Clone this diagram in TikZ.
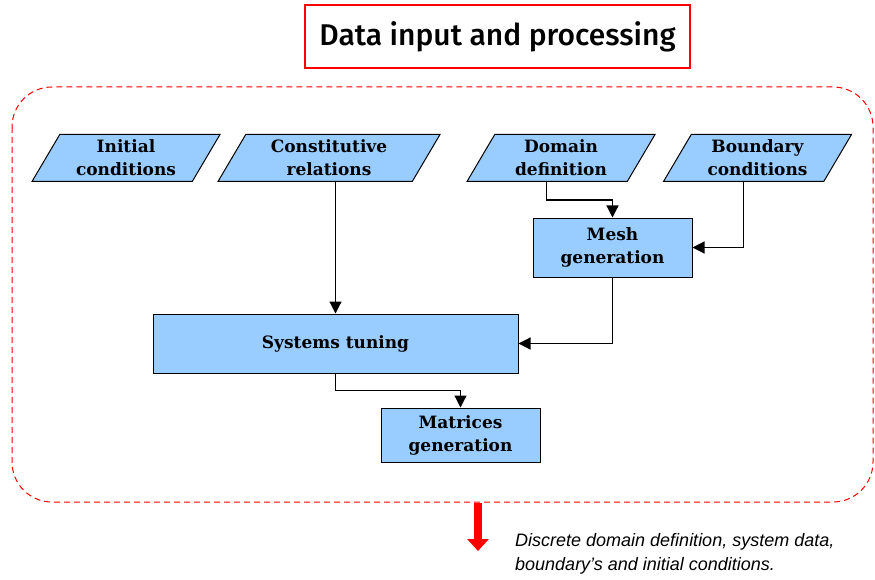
\documentclass[tikz,border=0pt]{standalone}
\usepackage{fontspec}
\setmainfont{Liberation Serif}
\newfontfamily\boxfont{DejaVu Serif}
\newfontfamily\titlefont{Fira Sans}[BoldFont={Fira Sans Medium}]
\newfontfamily\notefont{Liberation Sans}
\usetikzlibrary{arrows.meta,calc,shapes.geometric}
\definecolor{boxblue}{HTML}{99CCFF}

\begin{document}
\begin{tikzpicture}[x=1pt,y=-1pt,
	data/.style={trapezium,trapezium left angle=52.5,trapezium right angle=127.5,trapezium stretches body,draw,line width=1pt,fill=boxblue,minimum width=188pt,minimum height=47pt,inner sep=0pt,align=center,font=\boxfont\bfseries\fontsize{17}{23}\selectfont},
	proc/.style={rectangle,draw,line width=1pt,fill=boxblue,inner sep=0pt,align=center,font=\boxfont\bfseries\fontsize{17}{23}\selectfont},
	link/.style={-{Triangle[length=12pt,width=12pt]},line width=1.2pt}]
			\useasboundingbox (0,0) rectangle (875,580);
			% frame and title
			\draw[red,dash pattern=on 6pt off 4pt,rounded corners=40pt,line width=1pt] (12,87) rectangle (873,502);
			\node[draw=red,line width=1.5pt,minimum width=385pt,minimum height=63pt,font=\titlefont\bfseries\fontsize{30}{32}\selectfont] (title) at (497.5,36.5) {Data input and processing};
			% inputs
			\node[data] (ic) at (126,158) {Initial\\conditions};
			\node[data,minimum width=222pt] (cr) at (329,158) {Constitutive\\relations};
			\node[data] (dd) at (561,158) {Domain\\definition};
			\node[data] (bc) at (757.5,158) {Boundary\\conditions};
			% processing
			\node[proc,minimum width=159pt,minimum height=59pt] (mg) at (612.5,247.5) {Mesh\\generation};
			\node[proc,minimum width=365pt,minimum height=59pt] (st) at (335.5,343.5) {Systems tuning};
			\node[proc,minimum width=159pt,minimum height=54pt] (mx) at (460.5,435) {Matrices\\generation};
			\path
			($(dd.bottom left corner)!.5!(dd.bottom right corner)$) coordinate (ddb)
			($(bc.bottom left corner)!.5!(bc.bottom right corner)$) coordinate (bcb)
			(478,503) coordinate (out)
			;
			\draw[link] (cr.south -| st.north) -- (st.north);
			\draw[link] (ddb) -- ++(0,18) -| (mg.north);
			\draw[link] (bcb) |- (mg.east);
			\draw[link] (mg.south) |- (st.east);
			\draw[link] (st.south) -- ++(0,17) -| (mx.north);
			% output
			\draw[red,line width=8pt,-{Triangle[length=12pt,width=21pt]}] (out) -- ++(0,48);
			\node[anchor=north west,align=left,inner sep=0pt,font=\notefont\itshape\fontsize{18}{24}\selectfont] (note) at (515,533) {Discrete domain definition, system data,\\boundary’s and initial conditions.};
		\end{tikzpicture}
\end{document}
